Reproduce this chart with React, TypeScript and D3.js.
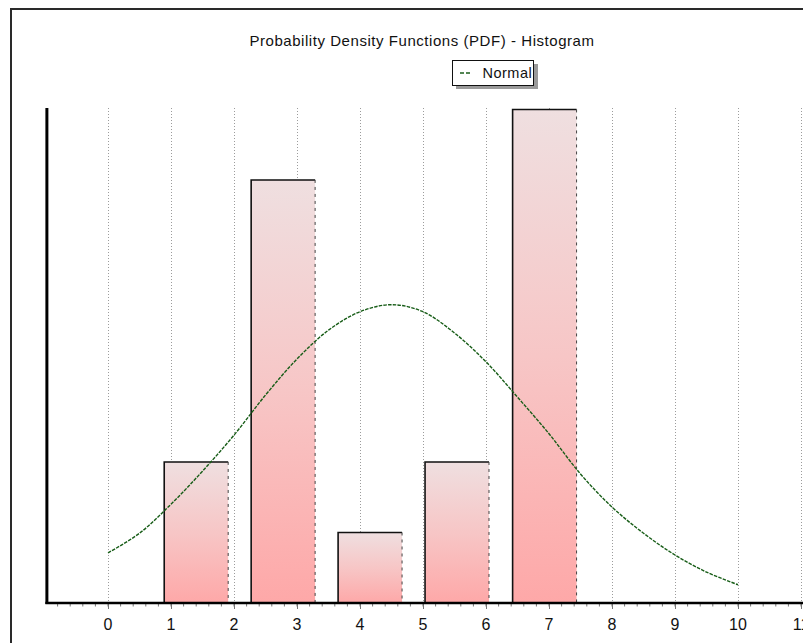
import React from "react";
import * as d3 from "d3";

// Histogram bins (bin centres) and observation counts
const binCenters = [1.4, 2.78, 4.16, 5.54, 6.93];
const binCounts = [2, 6, 1, 2, 7];
const binWidth = 1.385;

// Fitted normal PDF sampled along the x range
const curveX = [0, 0.5, 1, 1.5, 2, 2.5, 3, 3.5, 4, 4.5, 5, 5.5, 6, 6.5, 7, 7.5, 8, 8.5, 9, 9.5, 10];
const curveY = [
  0.0285, 0.0397, 0.0562, 0.075, 0.0955, 0.1183, 0.1388, 0.1552, 0.1657, 0.1697, 0.1657,
  0.1536, 0.1372, 0.1171, 0.0963, 0.0734, 0.0546, 0.0397, 0.0273, 0.0176, 0.0104,
];

const xTickLabels = ["0", "1", "2", "3", "4", "5", "6", "7", "8", "9", "10", "11"];

const titleText = "Probability Density Functions (PDF) - Histogram";
const legendLabel = "Normal";

const W = 803;
const H = 643;

export default function App() {
  const total = d3.sum(binCounts);
  const densities = binCounts.map((c) => c / (total * binWidth));

  const x = d3.scaleLinear().domain([0, 10]).range([108, 738]);
  const y = d3.scaleLinear().domain([0, 0.2816]).range([603, 108]);

  const axisLeft = x(-0.97);
  const plotTop = y(0.2816);
  const base = y(0);

  const barW = x(binWidth * 0.733) - x(0);

  const line = d3
    .line<number>()
    .x((_, i) => x(curveX[i]))
    .y((d) => y(d))
    .curve(d3.curveCatmullRom);

  const minorTicks = d3.range(-4, 56).map((k) => k * 0.2);

  const font = "'Liberation Sans', Arial, sans-serif";

  return (
    <svg
      width={W}
      height={H}
      style={{ position: "absolute", left: 0, top: 0, background: "#fff" }}
      fontFamily={font}
    >
      <defs>
        <linearGradient id="barFill" x1="0" y1="0" x2="0" y2="1">
          <stop offset="0%" stopColor="#efdfe0" />
          <stop offset="50%" stopColor="#f7c6c6" />
          <stop offset="100%" stopColor="#fea8a8" />
        </linearGradient>
      </defs>

      <rect x={0} y={0} width={W} height={H} fill="#fff" />

      {/* window frame */}
      <path d={`M11,${H} L11,9 L${W},9`} fill="none" stroke="#2a2a2a" strokeWidth={2} />

      <text x={422} y={45.5} textAnchor="middle" fontSize={15} letterSpacing={0.55} fill="#111">
        {titleText}
      </text>

      {/* legend */}
      <rect x={456} y={64} width={82} height={25} fill="#9a9a9a" />
      <rect x={452.5} y={60.5} width={81} height={25} fill="#fff" stroke="#111" strokeWidth={1} />
      <line x1={460} x2={471} y1={73} y2={73} stroke="#1b5e1b" strokeWidth={1.3} strokeDasharray="4,2" />
      <text x={482.5} y={78} fontSize={14.5} letterSpacing={0.5} fill="#111">
        {legendLabel}
      </text>

      {/* vertical grid */}
      {xTickLabels.map((_, i) => (
        <line
          key={`g${i}`}
          x1={x(i) + 0.5}
          x2={x(i) + 0.5}
          y1={plotTop}
          y2={base}
          stroke="#9c9c9c"
          strokeWidth={1}
          strokeDasharray="1,2"
        />
      ))}

      {/* histogram bars */}
      {binCenters.map((c, i) => {
        const left = x(c) - barW / 2;
        const top = y(densities[i]);
        const right = left + barW;
        return (
          <g key={`b${i}`}>
            <rect x={left} y={top} width={barW} height={base - top} fill="url(#barFill)" />
            <path
              d={`M${left},${base} L${left},${top} L${right},${top}`}
              fill="none"
              stroke="#111"
              strokeWidth={1.6}
            />
            <line
              x1={right}
              x2={right}
              y1={top}
              y2={base}
              stroke="#444"
              strokeWidth={1}
              strokeDasharray="3,4"
            />
          </g>
        );
      })}

      {/* normal curve */}
      <path
        d={line(curveY) || ""}
        fill="none"
        stroke="#165c16"
        strokeWidth={1.4}
        strokeDasharray="3.5,1.2"
      />

      {/* axes */}
      <line x1={axisLeft} x2={axisLeft} y1={plotTop} y2={base + 1} stroke="#000" strokeWidth={3} />
      {minorTicks.map((t) => (
        <line
          key={`m${t.toFixed(1)}`}
          x1={x(t)}
          x2={x(t)}
          y1={base}
          y2={base + 3.5}
          stroke="#777"
          strokeWidth={1}
        />
      ))}
      {xTickLabels.map((lab, i) => (
        <line key={`t${i}`} x1={x(i) + 0.5} x2={x(i) + 0.5} y1={base} y2={base + 6} stroke="#777" strokeWidth={1} />
      ))}
      <line x1={axisLeft - 1.5} x2={W} y1={base} y2={base} stroke="#000" strokeWidth={2.5} />
      {xTickLabels.map((lab, i) => (
        <text key={`l${i}`} x={x(i)} y={630} textAnchor="middle" fontSize={16} fill="#111">
          {lab}
        </text>
      ))}
    </svg>
  );
}
